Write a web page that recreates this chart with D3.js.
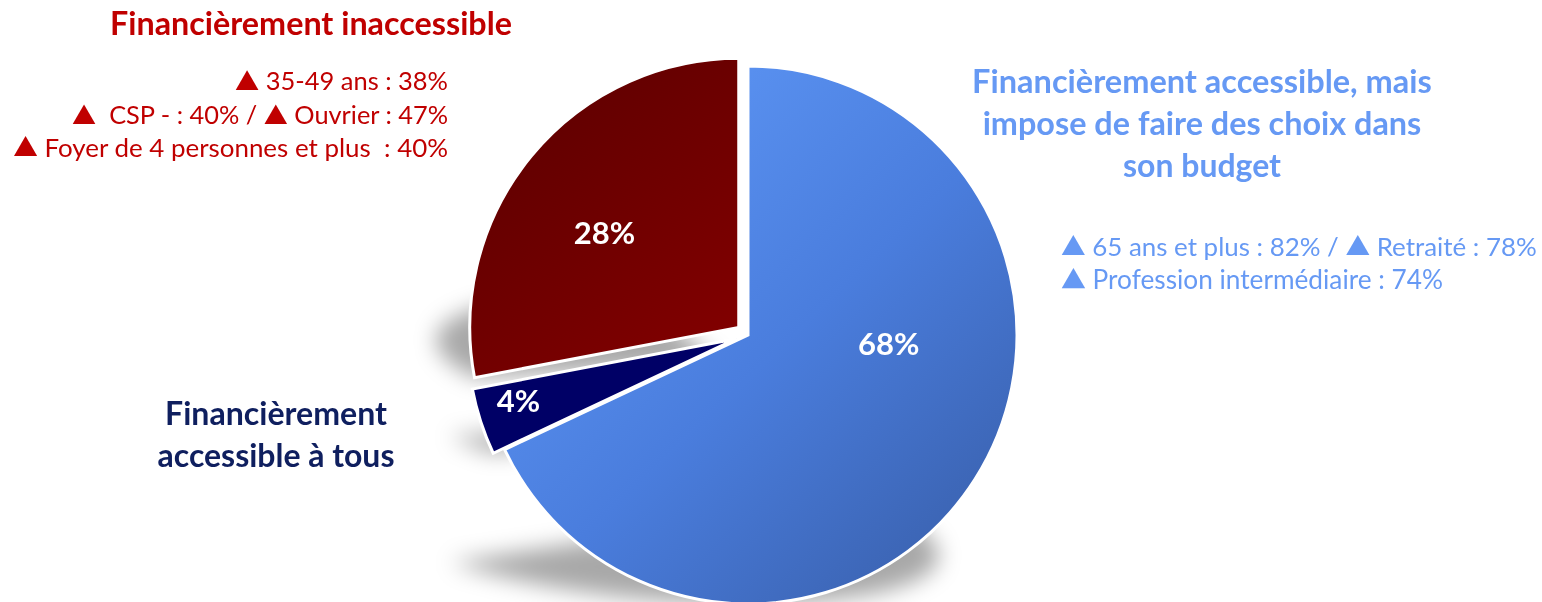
<!DOCTYPE html>
<html lang="fr">
<head>
<meta charset="utf-8">
<script src="https://cdn.jsdelivr.net/npm/d3@7"></script>
<style>
  html, body { margin: 0; padding: 0; background: #fff; }
  svg { display: block; }
  text { white-space: pre; }
</style>
</head>
<body>
<svg id="chart" width="1542" height="602"></svg>
<script>
// Pie slices, clockwise from 12 o'clock
const categories = [
  "Financièrement accessible, mais impose de faire des choix dans son budget",
  "Financièrement accessible à tous",
  "Financièrement inaccessible"
];
const values = [68, 4, 28];
const sliceLabels = ["68%", "4%", "28%"];

// Category captions (one array per caption line)
const captionBudget = ["Financièrement accessible, mais", "impose de faire des choix dans", "son budget"];
const captionTous = ["Financièrement", "accessible à tous"];
const captionInaccessible = ["Financièrement inaccessible"];

// Over-represented sub-groups, per category
const detailsBudget = [
  ["▲", " 65 ans et plus : 82% / ", "▲", " Retraité : 78%"],
  ["▲", " Profession intermédiaire : 74%"]
];
const detailsInaccessible = [
  ["▲", " 35-49 ans : 38%"],
  ["▲", "  CSP - : 40% / ", "▲", " Ouvrier : 47%"],
  ["▲", " Foyer de 4 personnes et plus  : 40%"]
];

const svg = d3.select("#chart");
const defs = svg.append("defs");

const font = "Lato, 'Open Sans', sans-serif";
const triFont = "'Noto Sans CJK JP', 'DejaVu Sans', sans-serif";

const center = { x: 748, y: 335 };
const radius = 269;
const explode = [0, 12, 12];

// Gradients are expressed relative to each slice's own centre
function gradient(id, x1, y1, x2, y2, stops) {
  const g = defs.append("linearGradient").attr("id", id)
    .attr("gradientUnits", "userSpaceOnUse")
    .attr("x1", x1).attr("y1", y1).attr("x2", x2).attr("y2", y2);
  stops.forEach(([o, c]) => g.append("stop").attr("offset", o).attr("stop-color", c));
}
gradient("gBlue", -190, -215, 250, 245, [[0, "#5e97f6"], [0.5, "#4a7ddd"], [1, "#385ea9"]]);
gradient("gRed", -260, -255, 0, 50, [[0, "#5a0000"], [1, "#850000"]]);

const fills = ["url(#gBlue)", "#000066", "url(#gRed)"];

defs.append("filter").attr("id", "soft")
  .attr("x", "-30%").attr("y", "-80%").attr("width", "160%").attr("height", "260%")
  .append("feGaussianBlur").attr("stdDeviation", 11);

const pie = d3.pie().sort(null).value(d => d)(values);
const arc = d3.arc().innerRadius(0).outerRadius(radius);

// Each slice's centre, pushed out along its mid-angle
const sliceCenters = pie.map((p, i) => {
  const a = (p.startAngle + p.endAngle) / 2;
  return { x: center.x + explode[i] * Math.sin(a), y: center.y - explode[i] * Math.cos(a) };
});

// Perspective shadows: each slice flattened towards its own bottom and sheared left
const shadowLayer = svg.append("g").attr("filter", "url(#soft)");
const s = 0.27, k = 0.35;
pie.forEach((p, i) => {
  const c = sliceCenters[i];
  const tmp = svg.append("path").attr("d", arc(p));
  const bb = tmp.node().getBBox();
  tmp.remove();
  const yb = c.y + bb.y + bb.height;
  shadowLayer.append("g")
    .attr("transform", `matrix(1,0,${k},${s},${-k * yb},${(1 - s) * yb})`)
    .append("path")
    .attr("transform", `translate(${c.x},${c.y})`)
    .attr("d", arc(p))
    .attr("fill", "#000")
    .attr("fill-opacity", 0.34);
});

// Slices
svg.append("g").selectAll("path").data(pie).join("path")
  .attr("transform", (d, i) => `translate(${sliceCenters[i].x},${sliceCenters[i].y})`)
  .attr("d", arc)
  .attr("fill", (d, i) => fills[i])
  .attr("stroke", "#fff")
  .attr("stroke-width", 3)
  .attr("stroke-linejoin", "miter");

// Value labels inside slices (angle in degrees from 12 o'clock, distance from slice centre)
const labelPolar = [[93.7, 141], [254, 227], [305, 164]];
svg.append("g").selectAll("text").data(pie).join("text")
  .attr("x", (d, i) => sliceCenters[i].x + labelPolar[i][1] * Math.sin(labelPolar[i][0] * Math.PI / 180))
  .attr("y", (d, i) => sliceCenters[i].y - labelPolar[i][1] * Math.cos(labelPolar[i][0] * Math.PI / 180))
  .attr("dy", "0.35em")
  .attr("text-anchor", "middle")
  .attr("font-family", font)
  .attr("font-weight", 700)
  .attr("font-size", 31)
  .attr("fill", "#fff")
  .text((d, i) => sliceLabels[i]);

// Set font size so a text line spans the wanted width
function fit(sel, width) {
  sel.attr("font-size", 100);
  const w = sel.node().getComputedTextLength();
  sel.attr("font-size", 100 * width / w);
}

function lineOf(parts, opts) {
  const t = svg.append("text")
    .attr("x", opts.x).attr("y", opts.y)
    .attr("text-anchor", opts.anchor)
    .attr("font-family", font)
    .attr("font-weight", opts.bold ? 700 : 400)
    .attr("fill", opts.color);
  parts.forEach(p => {
    const ts = t.append("tspan").text(p);
    if (p === "▲") ts.attr("font-family", triFont).attr("font-size", "0.95em");
  });
  fit(t, opts.width);
  return t;
}

// Captions
const red = "#c00000", lightBlue = "#6699f4", navy = "#0f1f5f";

lineOf(captionInaccessible, { x: 311, y: 35, anchor: "middle", bold: true, color: red, width: 402 });

const redRows = [{ y: 90, w: 213 }, { y: 124, w: 376 }, { y: 157, w: 435 }];
detailsInaccessible.forEach((row, i) =>
  lineOf(row, { x: 448, y: redRows[i].y, anchor: "end", color: red, width: redRows[i].w }));

const budgetRows = [{ y: 93, w: 460 }, { y: 135, w: 439 }, { y: 177, w: 158 }];
captionBudget.forEach((row, i) =>
  lineOf([row], { x: 1202, y: budgetRows[i].y, anchor: "middle", bold: true, color: lightBlue, width: budgetRows[i].w }));

const blueRows = [{ y: 256, w: 476 }, { y: 289, w: 382 }];
detailsBudget.forEach((row, i) =>
  lineOf(row, { x: 1061, y: blueRows[i].y, anchor: "start", color: lightBlue, width: blueRows[i].w }));

const tousRows = [{ y: 425, w: 222 }, { y: 467, w: 237 }];
captionTous.forEach((row, i) =>
  lineOf([row], { x: 276, y: tousRows[i].y, anchor: "middle", bold: true, color: navy, width: tousRows[i].w }));
</script>
</body>
</html>
